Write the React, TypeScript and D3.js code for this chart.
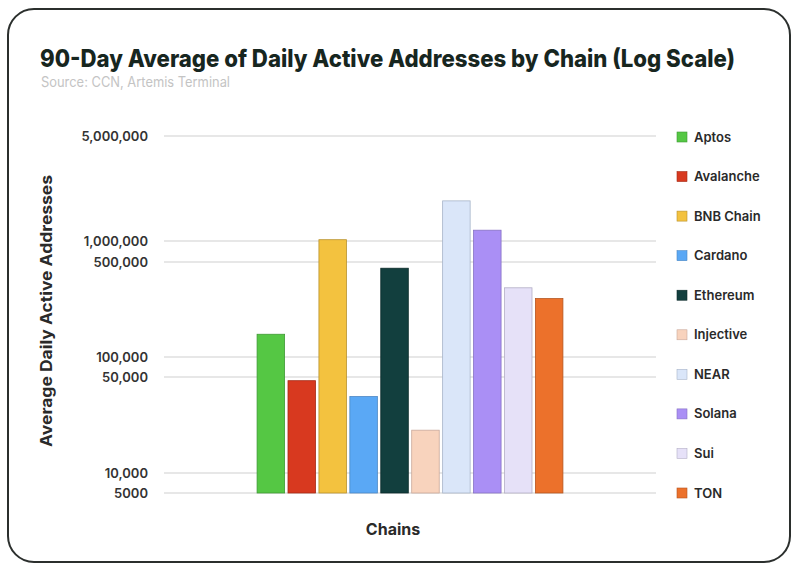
import React from "react";
import * as d3 from "d3";

const chains = ["Aptos", "Avalanche", "BNB Chain", "Cardano", "Ethereum", "Injective", "NEAR", "Solana", "Sui", "TON"];
const values = [147000, 47000, 1020000, 36000, 450000, 20500, 1850000, 1180000, 323000, 269000];
const colors = ["#55c744", "#d8391f", "#f3c23f", "#5aa8f5", "#123f3e", "#f8d3bd", "#dae6f9", "#aa8ff5", "#e6e1f8", "#ec712b"];
const strokes = ["#3f9a35", "#a52a16", "#b8912c", "#4a86c4", "#0b2a29", "#c9a89a", "#a7b4c8", "#8671c4", "#b3aec5", "#b55520"];
const tickValues = [5000, 10000, 50000, 100000, 500000, 1000000, 5000000];
const tickLabels = ["5000", "10,000", "50,000", "100,000", "500,000", "1,000,000", "5,000,000"];
// rendered positions of the (irregular) tick grid in the source chart
const tickPositions = [493, 473, 377, 357, 262, 241, 136];

const W = 800;
const H = 573;

export default function App() {
  const y = d3.scaleLog().domain(tickValues).range(tickPositions);
  const x = d3.scaleBand<string>().domain(chains).range([164, 656]).paddingInner(0.11).paddingOuter(3.01);
  const font = "Inter, 'Open Sans', sans-serif";
  const legendY = d3.scalePoint<string>().domain(chains).range([137, 493]);
  return (
    <svg width={W} height={H} style={{ position: "absolute", left: 0, top: 0, background: "#fff" }} fontFamily={font}>
      <rect x={8} y={9} width={782} height={553} rx={26} ry={26} fill="#fff" stroke="#2b2f2d" strokeWidth={2} />
      <text x={40} y={67} fontSize={24} fontWeight={800} fill="#17261f" textLength={695} lengthAdjust="spacingAndGlyphs">
        90-Day Average of Daily Active Addresses by Chain (Log Scale)
      </text>
      <text x={41} y={87} fontSize={14} fill="#c4c4c4" textLength={189} lengthAdjust="spacingAndGlyphs">
        Source: CCN, Artemis Terminal
      </text>
      {tickValues.map((v, i) => (
        <g key={v}>
          <line x1={164} x2={656} y1={y(v)} y2={y(v)} stroke="#d0d0d0" strokeWidth={1.2} />
          <text x={148} y={y(v)} dy="0.35em" textAnchor="end" fontSize={13} fontWeight={600} fill="#333">
            {tickLabels[i]}
          </text>
        </g>
      ))}
      {chains.map((c, i) => (
        <rect
          key={c}
          x={x(c)}
          y={y(values[i])}
          width={x.bandwidth()}
          height={y(5000) - y(values[i])}
          fill={colors[i]}
          stroke={strokes[i]}
          strokeWidth={0.8}
        />
      ))}
      <text
        transform="translate(52,311) rotate(-90)"
        textAnchor="middle"
        fontSize={16}
        fontWeight={700}
        fill="#2a2a2a"
        textLength={272}
        lengthAdjust="spacingAndGlyphs"
      >
        Average Daily Active Addresses
      </text>
      <text x={393} y={535} textAnchor="middle" fontSize={16} fontWeight={700} fill="#2a2a2a">
        Chains
      </text>
      {chains.map((c, i) => (
        <g key={c} transform={`translate(677,${legendY(c)})`}>
          <rect x={0} y={-5} width={10} height={10} fill={colors[i]} stroke={strokes[i]} strokeWidth={0.6} />
          <text x={17} y={0} dy="0.35em" fontSize={13} fontWeight={600} fill="#2a2a2a">
            {c}
          </text>
        </g>
      ))}
    </svg>
  );
}
